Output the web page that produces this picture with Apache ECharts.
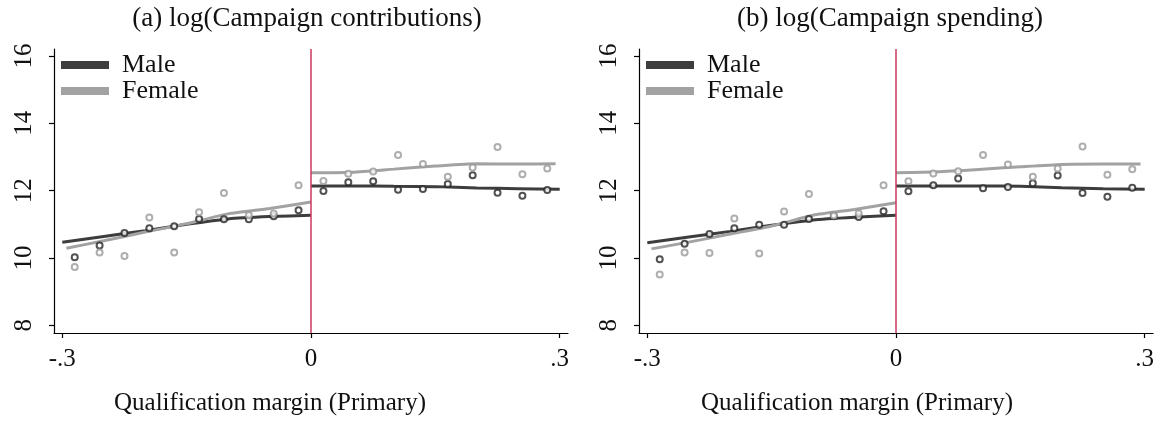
<!DOCTYPE html>
<html>
<head>
<meta charset="utf-8">
<script src="https://cdn.jsdelivr.net/npm/echarts@6/dist/echarts.min.js"></script>
<style>
  html, body { margin: 0; padding: 0; background: #fff; }
  #chart { width: 1164px; height: 423px; }
</style>
</head>
<body>
<div id="chart"></div>
<script>
// Bin midpoints of the qualification margin, below and above the cutoff
const binsLeft  = [-0.285, -0.255, -0.225, -0.195, -0.165, -0.135, -0.105, -0.075, -0.045, -0.015];
const binsRight = [0.015, 0.045, 0.075, 0.105, 0.135, 0.165, 0.195, 0.225, 0.255, 0.285];

// Panel (a): log(Campaign contributions), binned means
const contribMaleLeft    = [10.02, 10.37, 10.74, 10.88, 10.94, 11.16, 11.15, 11.15, 11.24, 11.42];
const contribFemaleLeft  = [9.73, 10.16, 10.06, 11.20, 10.16, 11.36, 11.93, 11.27, 11.32, 12.16];
const contribMaleRight   = [11.99, 12.25, 12.28, 12.03, 12.05, 12.20, 12.46, 11.94, 11.85, 12.02];
const contribFemaleRight = [12.29, 12.50, 12.57, 13.06, 12.79, 12.41, 12.69, 13.30, 12.49, 12.66];

// Panel (b): log(Campaign spending), binned means
const spendMaleLeft    = [9.96, 10.42, 10.71, 10.88, 10.99, 10.99, 11.16, 11.24, 11.22, 11.39];
const spendFemaleLeft  = [9.51, 10.16, 10.15, 11.17, 10.13, 11.38, 11.90, 11.26, 11.32, 12.16];
const spendMaleRight   = [11.98, 12.16, 12.36, 12.07, 12.11, 12.22, 12.45, 11.93, 11.82, 12.09];
const spendFemaleRight = [12.28, 12.51, 12.58, 13.06, 12.78, 12.41, 12.66, 13.31, 12.47, 12.64];

// Local fits evaluated on a grid of margins on each side of the cutoff
const fitXMaleLeft    = [-0.3, -0.25, -0.2, -0.15, -0.1, -0.05, 0];
const fitXFemaleLeft  = [-0.295, -0.25, -0.2, -0.15, -0.1, -0.05, 0];
const fitXMaleRight   = [0, 0.05, 0.1, 0.15, 0.2, 0.25, 0.3];
const fitXFemaleRight = [0, 0.05, 0.1, 0.15, 0.2, 0.25, 0.295];

const contribFitMaleLeft    = [10.47, 10.64, 10.81, 11.00, 11.16, 11.23, 11.27];
const contribFitFemaleLeft  = [10.29, 10.51, 10.77, 11.02, 11.31, 11.47, 11.66];
const contribFitMaleRight   = [12.14, 12.14, 12.13, 12.12, 12.08, 12.06, 12.04];
const contribFitFemaleRight = [12.53, 12.55, 12.64, 12.73, 12.80, 12.79, 12.80];

const spendFitMaleLeft    = [10.45, 10.62, 10.79, 10.97, 11.13, 11.21, 11.27];
const spendFitFemaleLeft  = [10.27, 10.47, 10.71, 10.95, 11.27, 11.44, 11.64];
const spendFitMaleRight   = [12.14, 12.14, 12.14, 12.13, 12.09, 12.06, 12.04];
const spendFitFemaleRight = [12.53, 12.56, 12.63, 12.71, 12.78, 12.79, 12.79];

const xTicks = [-0.3, 0, 0.3];
const yTicks = [8, 10, 12, 14, 16];
const panelTitles = ['(a) log(Campaign contributions)', '(b) log(Campaign spending)'];
const xAxisTitle = 'Qualification margin (Primary)';

const FONT = 'Liberation Serif';
const MALE = '#3d3d3d';
const FEMALE = '#a2a2a2';
const CUTOFF = '#c93a60';

const pairs = (xs, ys) => xs.map((x, i) => [x, ys[i]]);
const xFmt = v => {
  if (Math.abs(v) < 1e-9) return '0';
  const s = Math.abs(v).toFixed(1).replace(/^0/, '');
  return (v < 0 ? '-' : '') + s;
};

const panels = [
  { mL: contribMaleLeft, fL: contribFemaleLeft, mR: contribMaleRight, fR: contribFemaleRight,
    fmL: contribFitMaleLeft, ffL: contribFitFemaleLeft, fmR: contribFitMaleRight, ffR: contribFitFemaleRight },
  { mL: spendMaleLeft, fL: spendFemaleLeft, mR: spendMaleRight, fR: spendFemaleRight,
    fmL: spendFitMaleLeft, ffL: spendFitFemaleLeft, fmR: spendFitMaleRight, ffR: spendFitFemaleRight }
];

const grids = [
  { left: 54, right: 596, top: 49, bottom: 90 },
  { left: 639, right: 11, top: 49, bottom: 90 }
];

const xAxes = grids.map((g, i) => ({
  type: 'value', gridIndex: i, min: -0.31, max: 0.31,
  axisLine: { show: true, onZero: false, lineStyle: { color: '#000', width: 1.2 } },
  axisTick: { show: true, length: 5, customValues: xTicks, lineStyle: { color: '#000', width: 1.2 } },
  axisLabel: { customValues: xTicks, formatter: xFmt, margin: 14,
    fontFamily: FONT, fontSize: 25, color: '#111' },
  splitLine: { show: false }
}));

const yAxes = grids.map((g, i) => ({
  type: 'value', gridIndex: i, min: 7.77, max: 16.21,
  axisLine: { show: true, onZero: false, lineStyle: { color: '#000', width: 1.2 } },
  axisTick: { show: true, length: 5, customValues: yTicks, lineStyle: { color: '#000', width: 1.2 } },
  axisLabel: { customValues: yTicks, rotate: 90, margin: 17,
    fontFamily: FONT, fontSize: 25, color: '#111' },
  splitLine: { show: false }
}));

const series = [];
panels.forEach((p, i) => {
  const lineBase = { type: 'line', xAxisIndex: i, yAxisIndex: i, symbol: 'none', smooth: 0.2, z: 2 };
  series.push(Object.assign({}, lineBase, { name: 'Male', data: pairs(fitXMaleLeft, p.fmL),
    lineStyle: { color: MALE, width: 3 }, itemStyle: { color: MALE },
    markLine: { silent: true, symbol: 'none', label: { show: false },
      lineStyle: { color: CUTOFF, width: 1.5, type: 'solid' }, data: [{ xAxis: 0 }] } }));
  series.push(Object.assign({}, lineBase, { name: 'Female', data: pairs(fitXFemaleLeft, p.ffL),
    lineStyle: { color: FEMALE, width: 3 }, itemStyle: { color: FEMALE } }));
  series.push(Object.assign({}, lineBase, { name: 'Male', data: pairs(fitXMaleRight, p.fmR),
    lineStyle: { color: MALE, width: 3 }, itemStyle: { color: MALE } }));
  series.push(Object.assign({}, lineBase, { name: 'Female', data: pairs(fitXFemaleRight, p.ffR),
    lineStyle: { color: FEMALE, width: 3 }, itemStyle: { color: FEMALE } }));
  // Binned means drawn as hollow circles on top of the fits
  series.push({ type: 'scatter', name: 'Male', xAxisIndex: i, yAxisIndex: i, z: 3,
    symbol: 'emptyCircle', symbolSize: 6,
    itemStyle: { color: '#262626', borderWidth: 2 },
    data: pairs(binsLeft, p.mL).concat(pairs(binsRight, p.mR)) });
  series.push({ type: 'scatter', name: 'Female', xAxisIndex: i, yAxisIndex: i, z: 3,
    symbol: 'emptyCircle', symbolSize: 6,
    itemStyle: { color: '#9a9a9a', borderWidth: 1.6 },
    data: pairs(binsLeft, p.fL).concat(pairs(binsRight, p.fR)) });
});

const legendBase = {
  orient: 'vertical', top: 52, padding: 0, icon: 'rect', itemWidth: 48, itemHeight: 8, itemGap: 0,
  selectedMode: false, data: ['Male', 'Female'],
  textStyle: { fontFamily: FONT, fontSize: 26, lineHeight: 25, color: '#111', padding: [0, 0, 0, 8] }
};

const textEl = (text, x, y, size) => ({
  type: 'text', x: x, y: y, silent: true,
  style: { text: text, align: 'center', verticalAlign: 'middle',
    font: size + 'px "' + FONT + '"', fill: '#111' }
});

const chart = echarts.init(document.getElementById('chart'), null, { renderer: 'canvas' });
chart.setOption({
  animation: false,
  backgroundColor: '#fff',
  grid: grids,
  xAxis: xAxes,
  yAxis: yAxes,
  legend: [Object.assign({}, legendBase, { left: 61 }), Object.assign({}, legendBase, { left: 646 })],
  series: series,
  graphic: [
    textEl(panelTitles[0], 307, 19, 27),
    textEl(panelTitles[1], 890, 19, 27),
    textEl(xAxisTitle, 270, 403, 25),
    textEl(xAxisTitle, 857, 403, 25)
  ]
});
</script>
</body>
</html>
